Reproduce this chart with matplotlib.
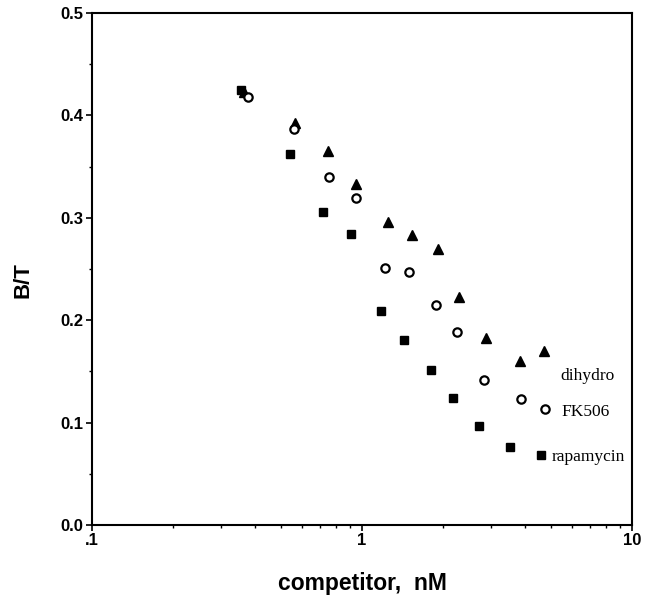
import matplotlib
matplotlib.use("Agg")
import matplotlib.pyplot as plt
from matplotlib.ticker import FixedLocator, LogLocator, NullFormatter, MultipleLocator

# rapamycin (filled squares)
rapa_x = [0.357, 0.542, 0.718, 0.914, 1.174, 1.435, 1.796, 2.167, 2.71, 3.535, 4.594]
rapa_y = [0.425, 0.362, 0.306, 0.284, 0.209, 0.181, 0.151, 0.124, 0.097, 0.076, 0.068]

# FK506 (open circles)
fk_x = [0.378, 0.560, 0.753, 0.948, 1.215, 1.492, 1.874, 2.248, 2.824, 3.873, 4.768]
fk_y = [0.418, 0.387, 0.340, 0.319, 0.251, 0.247, 0.215, 0.188, 0.142, 0.123, 0.113]

# dihydro (filled triangles)
dih_x = [0.365, 0.563, 0.749, 0.948, 1.251, 1.526, 1.918, 2.287, 2.879, 3.864, 4.716]
dih_y = [0.423, 0.393, 0.365, 0.333, 0.296, 0.283, 0.270, 0.223, 0.183, 0.160, 0.170]

x_ticks = [0.1, 1, 10]
x_ticklabels = [".1", "1", "10"]
y_ticks = [0.0, 0.1, 0.2, 0.3, 0.4, 0.5]

labels = ["dihydro", "FK506", "rapamycin"]
label_x = [5.41, 5.5, 5.05]
label_y = [0.146, 0.110, 0.066]

plt.rcParams['font.family'] = ['Liberation Sans', 'DejaVu Sans']

fig = plt.figure(figsize=(6.53, 5.97), dpi=100)
ax = fig.add_axes([0.1409, 0.1206, 0.9678 - 0.1409, 0.9782 - 0.1206])

ax.plot(dih_x, dih_y, linestyle='none', marker='^', markersize=7,
        color='black', zorder=3)
ax.plot(fk_x, fk_y, linestyle='none', marker='o', markersize=6,
        markerfacecolor='white', markeredgecolor='black', markeredgewidth=1.6, zorder=3)
ax.plot(rapa_x, rapa_y, linestyle='none', marker='s', markersize=5.5,
        color='black', zorder=4)

for t, lx, ly in zip(labels, label_x, label_y):
    ax.text(lx, ly, t, ha='left', va='center', fontsize=12.5,
            family=['Liberation Serif', 'DejaVu Serif'])

ax.set_xscale('log')
ax.set_xlim(0.1, 10)
ax.set_ylim(0, 0.5)

ax.xaxis.set_major_locator(FixedLocator(x_ticks))
ax.set_xticklabels(x_ticklabels)
ax.xaxis.set_minor_locator(LogLocator(base=10, subs=range(2, 10)))
ax.xaxis.set_minor_formatter(NullFormatter())
ax.set_yticks(y_ticks)
ax.set_yticklabels([f"{v:.1f}" for v in y_ticks])
ax.yaxis.set_minor_locator(MultipleLocator(0.05))

for lbl in ax.get_xticklabels() + ax.get_yticklabels():
    lbl.set_fontweight('bold')
    lbl.set_fontsize(12)

ax.tick_params(which='major', direction='out', length=4, width=1.2, pad=2)
ax.tick_params(which='minor', direction='out', length=2.5, width=1)

for s in ax.spines.values():
    s.set_linewidth(1.5)

ax.set_xlabel("competitor,  nM", fontsize=16.5, fontweight='bold')
ax.xaxis.set_label_coords(0.5, -0.091)
ax.set_ylabel("B/T", fontsize=16, fontweight='bold')
ax.yaxis.set_label_coords(-0.109, 0.478)

fig.savefig("out.png", dpi=100)
